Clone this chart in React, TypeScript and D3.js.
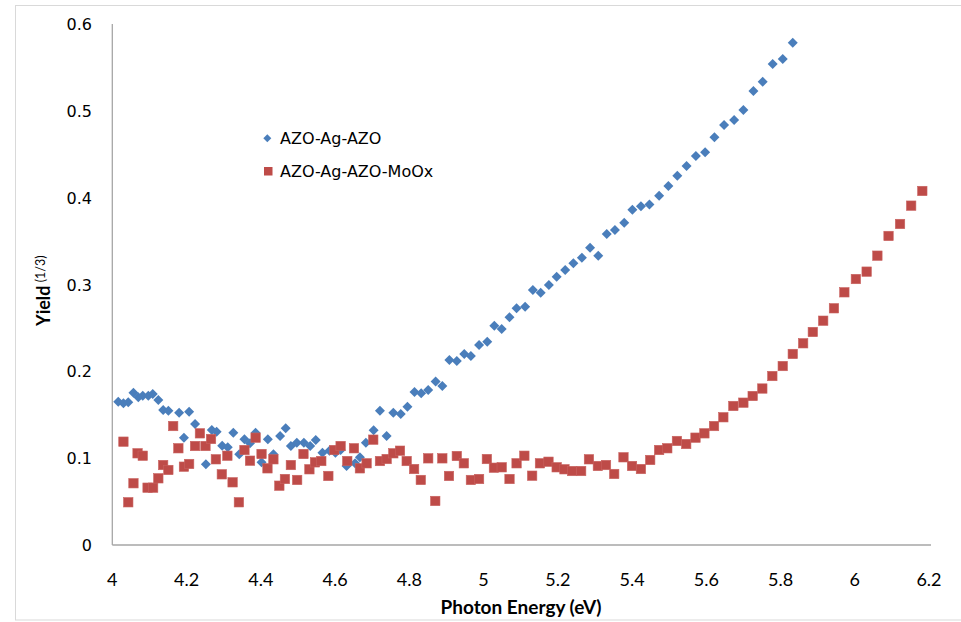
import React from "react";
import * as d3 from "d3";

const xTicks = [4, 4.2, 4.4, 4.6, 4.8, 5, 5.2, 5.4, 5.6, 5.8, 6, 6.2];
const yTicks = [0, 0.1, 0.2, 0.3, 0.4, 0.5, 0.6];
const seriesNames = ["AZO-Ag-AZO", "AZO-Ag-AZO-MoOx"];

const blueX = [4.016, 4.030, 4.043, 4.057, 4.070, 4.082, 4.097, 4.109, 4.124, 4.137, 4.151, 4.180, 4.193, 4.207, 4.223, 4.252, 4.268, 4.281, 4.296, 4.311, 4.326, 4.342, 4.356, 4.371, 4.386, 4.402, 4.419, 4.434, 4.452, 4.467, 4.481, 4.497, 4.516, 4.533, 4.548, 4.566, 4.585, 4.601, 4.615, 4.631, 4.654, 4.667, 4.683, 4.704, 4.721, 4.739, 4.757, 4.777, 4.795, 4.814, 4.832, 4.851, 4.871, 4.889, 4.908, 4.928, 4.948, 4.966, 4.988, 5.010, 5.029, 5.049, 5.070, 5.089, 5.112, 5.133, 5.154, 5.176, 5.197, 5.220, 5.242, 5.265, 5.287, 5.309, 5.332, 5.354, 5.379, 5.401, 5.424, 5.447, 5.473, 5.498, 5.522, 5.547, 5.572, 5.597, 5.622, 5.648, 5.675, 5.700, 5.727, 5.752, 5.779, 5.806, 5.833];
const blueY = [0.165, 0.1632, 0.1643, 0.1754, 0.1701, 0.1719, 0.1719, 0.1739, 0.167, 0.1555, 0.1547, 0.1524, 0.1236, 0.1535, 0.1394, 0.0929, 0.1324, 0.1305, 0.1144, 0.1125, 0.1293, 0.1045, 0.1217, 0.1171, 0.1293, 0.0952, 0.1217, 0.1045, 0.1255, 0.1344, 0.114, 0.1178, 0.1178, 0.114, 0.1209, 0.1063, 0.1086, 0.1063, 0.1094, 0.091, 0.0941, 0.101, 0.1178, 0.1321, 0.1546, 0.1255, 0.1524, 0.1509, 0.1593, 0.1762, 0.1747, 0.1785, 0.1883, 0.1831, 0.2131, 0.2119, 0.22, 0.2177, 0.2303, 0.2341, 0.2526, 0.2488, 0.2622, 0.2726, 0.2744, 0.2937, 0.2906, 0.2994, 0.309, 0.3167, 0.3244, 0.3309, 0.3424, 0.3332, 0.3582, 0.3628, 0.3712, 0.3862, 0.3901, 0.3921, 0.4023, 0.4135, 0.4253, 0.4365, 0.448, 0.4523, 0.4695, 0.4837, 0.4895, 0.501, 0.5229, 0.5336, 0.554, 0.5597, 0.5785];

const redX = [4.030, 4.043, 4.057, 4.068, 4.082, 4.095, 4.110, 4.124, 4.137, 4.151, 4.164, 4.178, 4.193, 4.207, 4.223, 4.236, 4.251, 4.266, 4.279, 4.295, 4.310, 4.324, 4.341, 4.356, 4.371, 4.386, 4.402, 4.418, 4.434, 4.450, 4.465, 4.481, 4.498, 4.515, 4.531, 4.546, 4.563, 4.582, 4.598, 4.615, 4.633, 4.651, 4.667, 4.685, 4.703, 4.721, 4.739, 4.757, 4.775, 4.793, 4.813, 4.831, 4.851, 4.870, 4.889, 4.907, 4.928, 4.947, 4.966, 4.988, 5.009, 5.028, 5.049, 5.070, 5.089, 5.110, 5.131, 5.152, 5.175, 5.197, 5.218, 5.239, 5.263, 5.284, 5.308, 5.330, 5.352, 5.377, 5.400, 5.424, 5.449, 5.473, 5.495, 5.521, 5.546, 5.571, 5.595, 5.621, 5.646, 5.673, 5.700, 5.725, 5.751, 5.778, 5.806, 5.833, 5.861, 5.887, 5.915, 5.944, 5.972, 6.003, 6.032, 6.061, 6.091, 6.122, 6.152, 6.182];
const redY = [0.119, 0.0492, 0.0711, 0.1056, 0.1028, 0.066, 0.066, 0.0768, 0.0921, 0.0864, 0.137, 0.1114, 0.0902, 0.0933, 0.114, 0.1286, 0.114, 0.1221, 0.0987, 0.0814, 0.1028, 0.0722, 0.0492, 0.1094, 0.0971, 0.1236, 0.1048, 0.0883, 0.0987, 0.0683, 0.076, 0.0921, 0.0749, 0.1048, 0.0872, 0.0952, 0.0967, 0.0795, 0.1094, 0.114, 0.0967, 0.1114, 0.0883, 0.0941, 0.1213, 0.0967, 0.099, 0.1056, 0.1086, 0.0967, 0.0875, 0.0749, 0.0998, 0.0507, 0.0998, 0.0795, 0.1025, 0.0941, 0.0749, 0.076, 0.099, 0.089, 0.0895, 0.076, 0.0941, 0.1028, 0.0798, 0.0941, 0.0959, 0.0895, 0.0872, 0.0852, 0.0852, 0.0987, 0.091, 0.0921, 0.0818, 0.101, 0.091, 0.0875, 0.0979, 0.1094, 0.1114, 0.1198, 0.1163, 0.1236, 0.1286, 0.137, 0.1471, 0.1601, 0.1639, 0.1716, 0.1802, 0.1946, 0.2061, 0.22, 0.2323, 0.2453, 0.2583, 0.2726, 0.291, 0.3063, 0.3148, 0.3332, 0.3559, 0.3697, 0.3908, 0.4077];

const BLUE = "#4A7EBB";
const RED = "#BE4B48";
const AXIS = "#A6A6A6";

export default function App() {
  const W = 961, H = 622;
  const x = d3.scaleLinear().domain([4, 6.2]).range([112.3, 929]);
  const y = d3.scaleLinear().domain([0, 0.6]).range([545, 24]);
  const blue = blueX.map((v, i) => [v, blueY[i]]);
  const red = redX.map((v, i) => [v, redY[i]]);
  const diamond = (r: number) => `M0,${-r}L${r},0L0,${r}L${-r},0Z`;
  const fmtX = (v: number) => (Number.isInteger(v) ? String(v) : v.toFixed(1));
  const fmtY = (v: number) => (v === 0 ? "0" : v.toFixed(1));

  return (
    <svg width={W} height={H} style={{ position: "absolute", left: 0, top: 0, background: "#fff" }}>
      <rect x={15.5} y={5.5} width={W + 10} height={614.5} fill="#fff" stroke="#D9D9D9" strokeWidth={1} />
      {/* axes */}
      <line x1={x(4)} x2={x(4)} y1={y(0)} y2={y(0.6)} stroke={AXIS} strokeWidth={1.3} />
      <line x1={x(4)} x2={x(6.2) + 2} y1={y(0)} y2={y(0)} stroke={AXIS} strokeWidth={1.3} />
      {yTicks.map((t) => (
        <text key={"y" + t} x={92} y={y(t) + 6} textAnchor="end" fontFamily="DejaVu Sans" fontSize={16} fill="#000">
          {fmtY(t)}
        </text>
      ))}
      {xTicks.map((t) => (
        <text key={"x" + t} x={x(t)} y={585.5} textAnchor="middle" fontFamily="Lato" fontSize={18} fill="#000">
          {fmtX(t)}
        </text>
      ))}
      <text x={521} y={614} textAnchor="middle" fontFamily="Lato" fontWeight="bold" fontSize={19} fill="#000">
        Photon Energy (eV)
      </text>
      <text transform="translate(50,326) rotate(-90)" fontFamily="Lato" fontWeight="bold" fontSize={18} fill="#000">
        Yield
        <tspan fontWeight="normal" fontSize={12.5} dy={-5}> (1/3)</tspan>
      </text>
      {/* series */}
      {blue.map((d, i) => (
        <path key={"b" + i} d={diamond(5)} transform={`translate(${x(d[0])},${y(d[1])})`} fill={BLUE} />
      ))}
      {red.map((d, i) => (
        <rect key={"r" + i} x={x(d[0]) - 4.7} y={y(d[1]) - 4.7} width={9.4} height={9.4} fill={RED} stroke="#C9625F" strokeWidth={0.6} />
      ))}
      {/* legend */}
      <path d={diamond(4)} transform="translate(267.3,138.3)" fill={BLUE} />
      <text x={280} y={144} fontFamily="DejaVu Sans" fontSize={16} fill="#000">{seriesNames[0]}</text>
      <rect x={264} y={167} width={8.5} height={8.5} fill={RED} />
      <text x={280} y={177} fontFamily="DejaVu Sans" fontSize={16} fill="#000">{seriesNames[1]}</text>
    </svg>
  );
}
